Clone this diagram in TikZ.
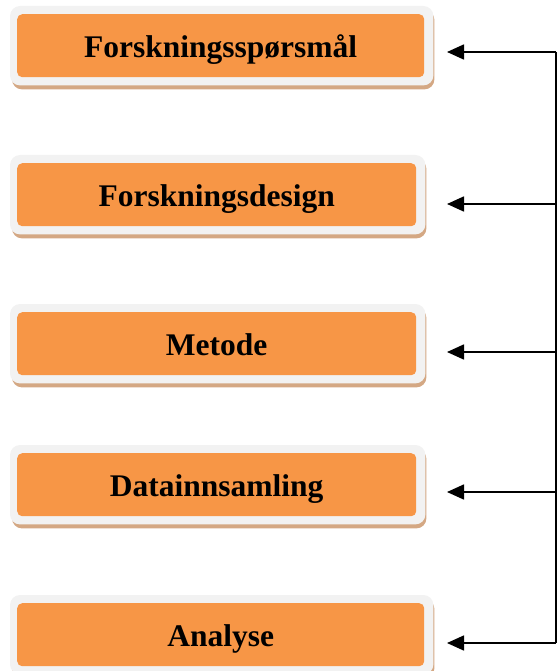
\documentclass[tikz,border=0pt]{standalone}
\usepackage{fontspec}
\setmainfont{Liberation Serif}
\usetikzlibrary{arrows.meta,calc,backgrounds}
\definecolor{boxorange}{HTML}{F79646}
\definecolor{framegray}{HTML}{F2F2F2}
\definecolor{shadowtan}{RGB}{212,168,132}
\tikzset{
  stepbox/.style={fill=boxorange, rounded corners=5pt, inner sep=0pt, anchor=north west,
    minimum height=63pt, text height=23pt, text depth=0pt,
    font=\bfseries\fontsize{31.5}{36}\selectfont, text=black},
  framefill/.style={fill=framegray, rounded corners=10pt},
  shadowfill/.style={fill=shadowtan, rounded corners=10pt},
  conn/.style={line width=1.6pt, black},
  arr/.style={conn, -{Triangle[length=17pt,width=15pt]}},
}
\newcommand{\framed}[1]{%
  \fill[shadowfill] ($(#1.north west)+(-5,-4)$) rectangle ($(#1.south east)+(10,12)$);
  \fill[framefill] ($(#1.north west)+(-7,-8)$) rectangle ($(#1.south east)+(9,8)$);
}
\begin{document}
\begin{tikzpicture}[x=1pt,y=-1pt]
\useasboundingbox (0,0) rectangle (557,671);
\node[stepbox, minimum width=407pt] (b1) at (17,14) {Forskningsspørsmål};
\node[stepbox, minimum width=399pt] (b2) at (17,163) {Forskningsdesign};
\node[stepbox, minimum width=399pt] (b3) at (17,312) {Metode};
\node[stepbox, minimum width=399pt] (b4) at (17,453) {Datainnsamling};
\node[stepbox, minimum width=407pt] (b5) at (17,603) {Analyse};
\begin{scope}[on background layer]
\framed{b1}\framed{b2}\framed{b3}\framed{b4}\framed{b5}
\end{scope}
\coordinate (t1) at (447,52);
\coordinate (t2) at (447,204);
\coordinate (t3) at (447,352);
\coordinate (t4) at (447,492);
\coordinate (t5) at (447,643);
\coordinate (r1) at (556,52);
\coordinate (r2) at (556,204);
\coordinate (r3) at (556,352);
\coordinate (r4) at (556,492);
\coordinate (r5) at (556,643);
\draw[conn] (r1) -- (r5);
\draw[arr] (r1) -- (t1);
\draw[arr] (r2) -- (t2);
\draw[arr] (r3) -- (t3);
\draw[arr] (r4) -- (t4);
\draw[arr] (r5) -- (t5);
\end{tikzpicture}
\end{document}
